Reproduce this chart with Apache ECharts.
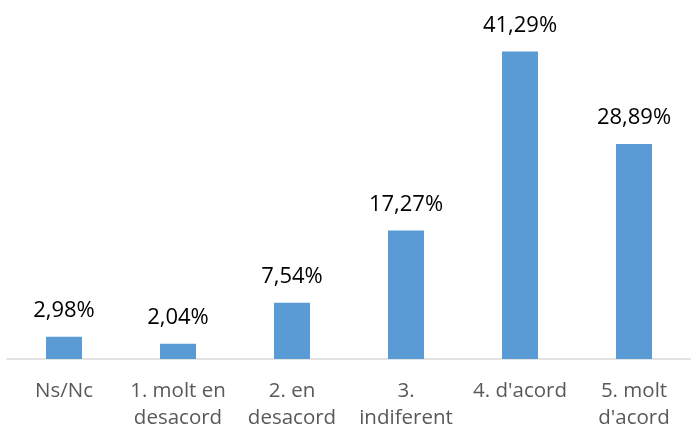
<!DOCTYPE html>
<html>
<head>
<meta charset="utf-8">
<script src="https://cdn.jsdelivr.net/npm/echarts@6/dist/echarts.min.js"></script>
<style>
  html, body { margin: 0; padding: 0; background: #ffffff; }
  #chart { width: 691px; height: 432px; }
</style>
</head>
<body>
<div id="chart"></div>
<script>
// Response categories and their share of answers (%)
const categories = ['Ns/Nc', '1. molt en\ndesacord', '2. en\ndesacord', '3.\nindiferent', '4. d\'acord', '5. molt\nd\'acord'];
const shares = [2.98, 2.04, 7.54, 17.27, 41.29, 28.89];

const chart = echarts.init(document.getElementById('chart'));

chart.setOption({
  animation: false,
  grid: { left: 7, top: 24, width: 694, height: 339, containLabel: false },
  xAxis: {
    type: 'category',
    data: categories,
    axisLine: { lineStyle: { color: '#d9d9d9', width: 1.5 } },
    axisTick: { show: false },
    axisLabel: {
      color: '#595959',
      fontFamily: 'Open Sans',
      fontSize: 20.5,
      lineHeight: 27,
      margin: 19,
      interval: 0
    }
  },
  yAxis: {
    type: 'value',
    min: 0,
    max: 45,
    show: false,
    splitLine: { show: false }
  },
  series: [{
    type: 'bar',
    data: shares,
    barWidth: 36,
    itemStyle: { color: '#5b9bd5' },
    label: {
      show: true,
      position: 'top',
      distance: 15,
      color: '#000000',
      fontFamily: 'Open Sans',
      fontSize: 22,
      // percentages written with a decimal comma
      formatter: p => p.value.toFixed(2).replace('.', ',') + '%'
    }
  }]
});
</script>
</body>
</html>
